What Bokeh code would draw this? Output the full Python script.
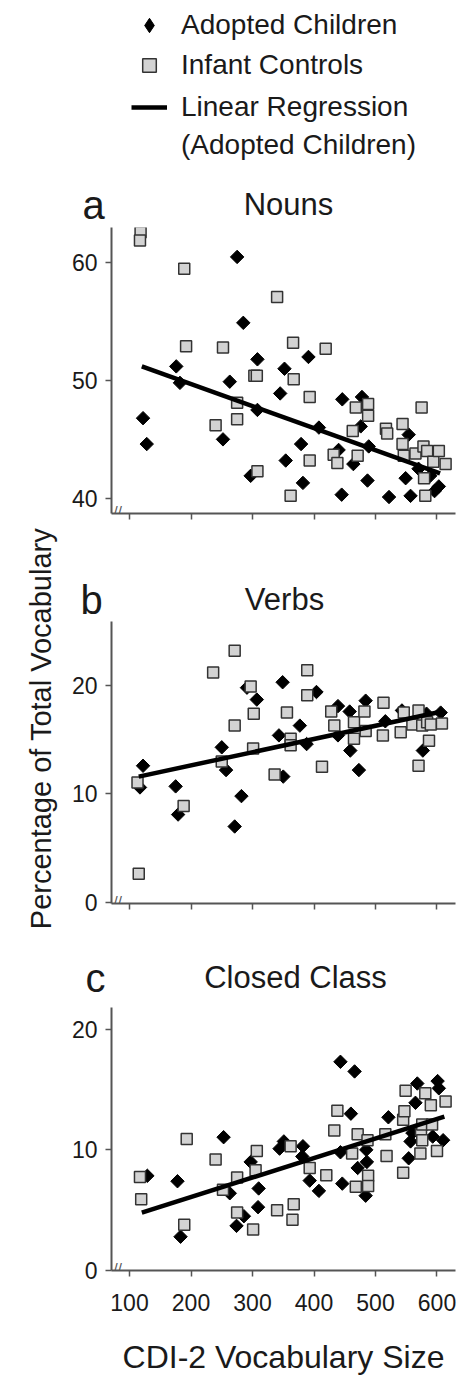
import math
from bokeh.plotting import figure
from bokeh.models import Label, Legend, LegendItem, FixedTicker, Range1d
from bokeh.layouts import row, column
from bokeh.embed import file_html
from bokeh.resources import INLINE

FONT = "Liberation Sans"

# ---------------- data ----------------
x_ticks = [100, 200, 300, 400, 500, 600]

nouns_adopted_x = [122, 128, 176, 182, 252, 263, 275, 285, 297, 308, 308, 345, 352, 354, 379, 382, 391, 408, 440, 445,
                   446, 464, 476, 478, 487, 489, 522, 549, 554, 557, 570, 589, 596, 603]
nouns_adopted_y = [46.8, 44.6, 51.2, 49.8, 45.0, 49.9, 60.5, 54.9, 41.9, 51.8, 47.5, 48.9, 51.0, 43.2, 44.6, 41.3, 52.0,
                   46.0, 44.1, 40.3, 48.4, 42.9, 46.1, 48.6, 41.5, 44.4, 40.1, 41.7, 45.4, 40.2, 42.5, 41.9, 40.6, 41.0]
nouns_control_x = [118, 117, 189, 192, 240, 252, 275, 275, 303, 307, 308, 340, 362, 366, 367, 393, 393, 419, 432, 438,
                   463, 468, 471, 488, 488, 517, 519, 544, 544, 546, 565, 575, 578, 579, 581, 584, 594, 603, 614]
nouns_control_y = [62.6, 61.9, 59.5, 52.9, 46.2, 52.8, 48.1, 46.7, 50.4, 50.4, 42.3, 57.1, 40.2, 53.2, 50.1, 48.6, 43.2,
                   52.7, 43.7, 43.0, 45.7, 47.7, 43.6, 48.0, 47.0, 45.9, 45.5, 46.3, 44.6, 43.6, 43.8, 47.7, 44.4, 41.7,
                   40.2, 44.0, 43.1, 44.0, 42.9]
nouns_fit_x = [120, 605]
nouns_fit_y = [51.2, 42.1]
nouns_ticks = [40, 50, 60]

verbs_adopted_x = [117, 122, 175, 179, 250, 257, 271, 282, 291, 307, 343, 349, 350, 377, 388, 404, 439, 439, 458, 459,
                   473, 484, 516, 543, 577, 583, 606]
verbs_adopted_y = [10.6, 12.6, 10.7, 8.1, 14.3, 12.2, 7.0, 9.8, 19.8, 18.7, 15.4, 20.3, 11.6, 16.3, 14.6, 19.4, 18.1,
                   15.4, 17.6, 14.0, 12.2, 18.6, 16.7, 17.7, 14.0, 17.4, 17.5]
verbs_control_x = [113, 115, 188, 236, 250, 271, 271, 297, 301, 302, 336, 356, 362, 362, 389, 389, 413, 428, 433, 465,
                   465, 482, 484, 513, 512, 541, 546, 560, 570, 570, 576, 584, 587, 590, 608]
verbs_control_y = [11.05, 2.65, 8.9, 21.2, 13.0, 23.2, 16.3, 19.9, 14.2, 17.4, 11.8, 17.5, 15.1, 14.5, 21.4, 19.1, 12.5,
                   17.6, 16.3, 16.6, 15.1, 17.6, 15.8, 18.4, 15.4, 15.7, 17.5, 16.4, 17.7, 12.6, 16.3, 16.6, 14.9,
                   16.4, 16.5]
verbs_fit_x = [115, 608]
verbs_fit_y = [11.6, 17.6]
verbs_ticks = [0, 10, 20]

closed_adopted_x = [129, 178, 183, 253, 263, 274, 286, 297, 309, 310, 344, 351, 381, 382, 393, 408, 443, 443, 446, 460,
                    466, 471, 484, 486, 485, 521, 554, 557, 560, 565, 568, 593, 601, 603, 610]
closed_adopted_y = [7.85, 7.4, 2.8, 11.05, 6.4, 3.7, 4.5, 9.0, 5.25, 6.8, 10.1, 10.7, 9.45, 10.3, 7.45, 6.6, 17.3, 9.8,
                    7.2, 13.0, 16.5, 8.5, 6.2, 9.0, 10.0, 12.7, 9.3, 10.7, 11.4, 13.9, 15.5, 11.1, 15.7, 15.1, 10.8]
closed_control_x = [117, 119, 189, 193, 240, 252, 275, 275, 301, 305, 307, 340, 362, 365, 367, 393, 420, 433, 438, 462,
                    468, 471, 487, 488, 488, 516, 518, 545, 545, 547, 549, 573, 574, 576, 576, 581, 590, 592, 600, 614]
closed_control_y = [7.74, 5.9, 3.8, 10.9, 9.2, 6.7, 7.7, 4.8, 3.4, 8.3, 9.9, 5.0, 10.3, 4.2, 5.5, 8.5, 7.9, 11.6, 13.25,
                    9.7, 6.95, 11.3, 10.8, 7.85, 7.0, 11.3, 9.5, 8.1, 12.5, 13.2, 14.9, 9.7, 11.65, 10.8, 12.1, 14.7,
                    13.7, 12.1, 9.9, 14.0]
closed_fit_x = [120, 612]
closed_fit_y = [4.8, 12.75]
closed_ticks = [0, 10, 20]

# ---------------- styling ----------------
AXIS = "#555555"
TXT = "#1a1a1a"
SQ_FILL = "#d3d3d3"
SQ_LINE = "#333333"
BORDER_L = 46
FRAME_W = 344
BORDER_R = 6
FIG_W = BORDER_L + FRAME_W + BORDER_R
XR = (70.7, 630.1)
BASE_FIX = 12  # compensation for where the alphabetic baseline lands


def blank_fig(w, h):
    f = figure(width=w, height=h, min_border=0, x_axis_location=None, y_axis_location=None,
               x_range=Range1d(0, 1), y_range=Range1d(0, 1), title=None,
               output_backend="svg", toolbar_location=None, frame_align=False)
    f.outline_line_color = None
    f.grid.visible = False
    return f


def add_header(f, letter, title, letter_x, title_x, base_y):
    f.add_layout(Label(x=letter_x, y=base_y + BASE_FIX, x_units="screen", y_units="screen",
                       text=letter, text_font=FONT, text_font_size="40px", text_color=TXT,
                       text_align="left", text_baseline="alphabetic"))
    f.add_layout(Label(x=title_x, y=base_y + BASE_FIX, x_units="screen", y_units="screen",
                       text=title, text_font=FONT, text_font_size="31px", text_color=TXT,
                       text_align="center", text_baseline="alphabetic"))


def panel(ax, ay, cx, cy, fx, fy, yr, yticks, frame_h, top, bottom, show_xlabels):
    p = figure(frame_width=FRAME_W, frame_height=frame_h, title=None,
               min_border_left=BORDER_L, min_border_right=BORDER_R,
               min_border_top=top, min_border_bottom=bottom,
               x_range=Range1d(*XR), y_range=Range1d(*yr),
               output_backend="svg", toolbar_location=None)
    p.outline_line_color = None
    p.grid.visible = False

    for axis in (p.xaxis[0], p.yaxis[0]):
        axis.axis_line_color = AXIS
        axis.axis_line_width = 2
        axis.major_tick_line_color = AXIS
        axis.major_tick_line_width = 1.5
        axis.major_tick_out = 6
        axis.major_tick_in = 0
        axis.minor_tick_line_color = None
        axis.major_label_text_font = FONT
        axis.major_label_text_color = TXT
        axis.major_label_text_font_size = "23px"

    p.xaxis.ticker = FixedTicker(ticks=x_ticks)
    p.yaxis.ticker = FixedTicker(ticks=yticks)
    p.yaxis.major_label_standoff = 8

    if show_xlabels:
        p.xaxis.major_label_standoff = 17
        p.xaxis.axis_label = "CDI-2 Vocabulary Size"
        p.xaxis.axis_label_text_font = FONT
        p.xaxis.axis_label_text_font_style = "normal"
        p.xaxis.axis_label_text_font_size = "32px"
        p.xaxis.axis_label_text_color = TXT
        p.xaxis.axis_label_standoff = 25
    else:
        p.xaxis.major_label_overrides = {t: "" for t in x_ticks}
        p.xaxis.major_label_text_font_size = "2px"
        p.xaxis.major_label_standoff = 0

    p.scatter(ax, ay, marker="square", angle=math.pi / 4, size=9.5,
              fill_color="black", line_color="black", line_width=1)
    p.scatter(cx, cy, marker="square", size=11,
              fill_color=SQ_FILL, line_color=SQ_LINE, line_width=1.5)
    p.line(fx, fy, line_color="black", line_width=4.5)

    # axis break mark at the corner
    p.add_layout(Label(x=2, y=2, x_units="screen", y_units="screen", text="//",
                       text_font=FONT, text_font_size="15px", text_color=AXIS,
                       text_align="left", text_baseline="middle"))
    return p


# ---------------- legend + header a ----------------
lf = blank_fig(FIG_W, 226)
nan = float("nan")
r_ad = lf.scatter([nan], [nan], marker="diamond", fill_color="black", line_color="black")
r_co = lf.scatter([nan], [nan], marker="square", fill_color=SQ_FILL, line_color=SQ_LINE, line_width=1.5)
r_fit = lf.line([nan], [nan], line_color="black", line_width=4.5)


def make_legend(items, loc, gh):
    return Legend(items=items, location=loc, glyph_width=36, glyph_height=gh, label_height=gh,
                  label_standoff=14, padding=0, margin=0, spacing=0,
                  border_line_color=None, background_fill_alpha=0,
                  label_text_font=FONT, label_text_font_size="28px", label_text_color=TXT)


lf.add_layout(make_legend([LegendItem(label="Adopted Children", renderers=[r_ad])], (66, 183), 36))
lf.add_layout(make_legend([LegendItem(label="Infant Controls", renderers=[r_co])], (66, 144), 34))
lf.add_layout(make_legend([LegendItem(label="Linear Regression", renderers=[r_fit]),
                           LegendItem(label="(Adopted Children)", renderers=[])], (66, 62), 38))
add_header(lf, "a", "Nouns", 17, 223, 10)

fa = panel(nouns_adopted_x, nouns_adopted_y, nouns_control_x, nouns_control_y,
           nouns_fit_x, nouns_fit_y, (38.7, 63.0), nouns_ticks, 286, 1, 62, False)

hb = blank_fig(FIG_W, 46)
add_header(hb, "b", "Verbs", 15, 219, 10)

fb = panel(verbs_adopted_x, verbs_adopted_y, verbs_control_x, verbs_control_y,
           verbs_fit_x, verbs_fit_y, (-0.1, 25.9), verbs_ticks, 282, 0, 45, False)

hc = blank_fig(FIG_W, 57)
add_header(hc, "c", "Closed Class", 20, 230, 16)

fc = panel(closed_adopted_x, closed_adopted_y, closed_control_x, closed_control_y,
           closed_fit_x, closed_fit_y, (0, 21.8), closed_ticks, 263, 2, 106, True)

# ---------------- shared y label ----------------
yl = blank_fig(65, 1376)
yl.add_layout(Label(x=40, y=648, x_units="screen", y_units="screen",
                    text="Percentage of Total Vocabulary", angle=math.pi / 2,
                    text_font=FONT, text_font_size="29px", text_color=TXT,
                    text_align="center", text_baseline="middle"))

layout = row(yl, column(lf, fa, hb, fb, hc, fc))

open("out.html", "w").write(file_html(layout, INLINE))
